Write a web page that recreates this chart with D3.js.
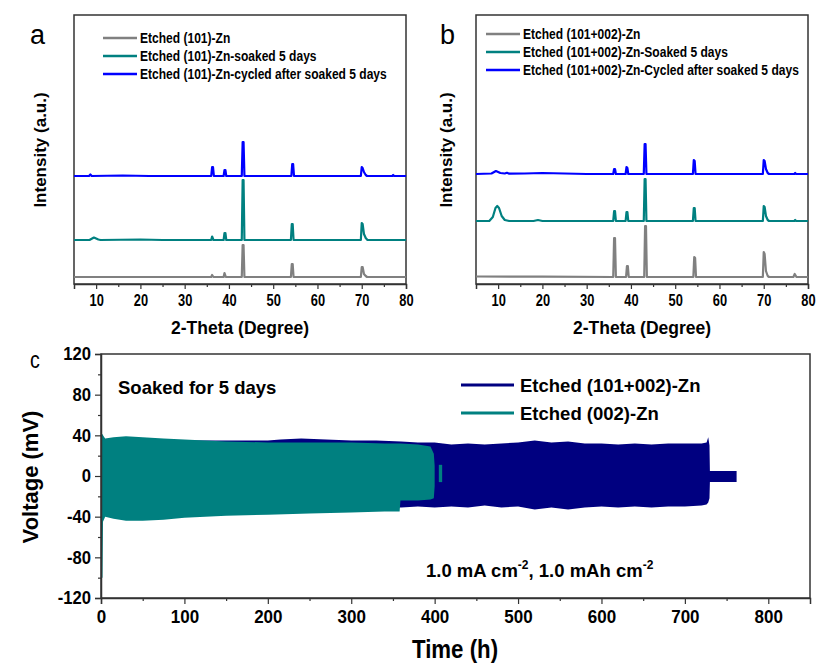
<!DOCTYPE html>
<html>
<head>
<meta charset="utf-8">
<script src="https://cdn.jsdelivr.net/npm/d3@7"></script>
<style>
  body { margin: 0; background: #fff; }
  svg text { fill: #000; font-family: "Liberation Sans", Arial, sans-serif; font-weight: bold; }
  svg text.plain { font-weight: normal; }
</style>
</head>
<body>
<svg width="818" height="669"></svg>
<script>
// ---- XRD data: [2-theta, intensity above baseline] ----
const aGray = [[5,0],[36.0,0],[36.2,2],[36.5,0],[38.8,0],[39.0,4],[39.3,0],[42.9,0],[43.1,32],[43.3,32],[43.5,0],
  [54.0,0],[54.2,13],[54.4,13],[54.6,0],[69.8,0],[70.0,10],[70.2,10],[70.5,3],[70.9,1],[71.2,0],[80,0]];
const aTeal = [[5,0],[8.5,0],[9.5,2.5],[10.5,0.5],[11,0],[20,0.5],[25,0],[36.0,0],[36.2,3.5],[36.5,0],[38.8,0],
  [39.0,7],[39.2,7],[39.4,0],[42.9,0],[43.1,60],[43.3,60],[43.5,0],[54.0,0],[54.2,16],[54.4,16],[54.6,0],
  [69.8,0],[70.0,17],[70.2,16],[70.5,6],[70.9,2],[71.3,0],[80,0]];
const aBlue = [[5,0],[8.4,0],[8.7,1.5],[9.0,0],[16,0.5],[22,0],[36.0,0],[36.2,9],[36.4,9],[36.6,0],[38.8,0],
  [39.0,6],[39.2,6],[39.4,0],[42.9,0],[43.1,34],[43.3,34],[43.5,0],[54.1,0],[54.3,12],[54.5,12],[54.7,0],
  [69.8,0],[70.0,9],[70.2,8],[70.5,4],[70.9,1],[71.2,0],[76.9,0],[77.1,1],[77.3,0],[80,0]];

const bGray = [[5,0.5],[20,0.3],[36.0,0],[36.2,39],[36.4,39],[36.6,0],[38.9,0],[39.1,11],[39.3,11],[39.5,0],
  [43.0,0],[43.2,51],[43.4,51],[43.6,0],[54.1,0],[54.3,20],[54.5,19],[54.7,0],[69.8,0],[70.0,25],[70.2,23],
  [70.5,6],[70.9,1],[71.2,0],[76.7,0],[77.0,3],[77.4,0],[80,0]];
const bTeal = [[5,0],[8.0,0],[8.8,4],[9.4,13],[9.8,15],[10.2,13],[10.8,5],[11.5,1],[12.5,0],[18,0],[19,1],[20,0],
  [36.0,0],[36.2,10],[36.4,10],[36.6,0],[38.8,0],[39.0,9],[39.2,9],[39.4,0],[42.9,0],[43.1,42],[43.3,42],[43.5,0],
  [54.0,0],[54.2,13],[54.4,13],[54.6,0],[69.8,0],[70.0,15],[70.2,14],[70.5,5],[70.9,1],[71.2,0],[76.9,0],[77.1,1],[77.3,0],[80,0]];
const bBlue = [[5,0],[8.5,0.5],[9.5,3],[10.5,1],[11.5,0.5],[12,1.2],[12.5,0.3],[16,0.5],[20,1],[25,0.5],[30,0],
  [36.0,0],[36.2,5],[36.4,5],[36.6,0],[38.8,0],[39.0,7],[39.2,6],[39.4,0],[42.9,0],[43.1,30],[43.3,30],[43.5,0],
  [54.0,0],[54.2,14],[54.4,13],[54.6,0],[69.8,0],[70.0,14],[70.2,13],[70.5,5],[70.9,1],[71.2,0],[76.9,0],[77.1,1],[77.3,0],[80,0]];

// stacking offsets (gray, teal, blue)
const aOffsets = [7, 44, 108];
const bOffsets = [7, 63, 110];

const aLabels = ["Etched (101)-Zn", "Etched (101)-Zn-soaked 5 days", "Etched (101)-Zn-cycled after soaked 5 days"];
const bLabels = ["Etched (101+002)-Zn", "Etched (101+002)-Zn-Soaked 5 days", "Etched (101+002)-Zn-Cycled after soaked 5 days"];
const xrdColors = ["#808080", "#008080", "#0000ff"];
const thetaTicks = [10, 20, 30, 40, 50, 60, 70, 80];

// ---- voltage profile envelopes: [time h, upper mV, lower mV] ----
const navyBand = [[0,35,-35],[100,35,-36],[200,35,-35],[215,36,-34],[240,37,-33],[270,36,-33],[300,35,-32],
  [330,35,-31],[360,34,-31],[380,33,-30],[400,33,-31],[420,31,-30],[440,32,-31],[460,31,-29],[480,32,-31],
  [500,33,-30],[520,35,-33],[540,33,-31],[560,34,-33],[580,32,-31],[600,32,-30],[620,31,-31],[640,32,-30],
  [660,31,-31],[680,32,-30],[700,32,-30],[720,32,-29],[726,33,-28],[728,38,-26],[729.5,30,-22],[730,5,-6],[762,5,-6]];
const tealBand = [[0,42,-100],[1.8,41,-100],[2.4,40,-45],[5,37,-40],[15,38,-42],[30,39,-44],[50,38,-44],[75,37,-43],[100,36,-41],
  [150,34,-39],[200,33,-38],[250,33,-37],[300,33,-36],[340,32,-35],[358,32,-35],[359,32,-24],[380,31,-24],
  [395,29,-23],[399,22,-22],[400,10,-10]];
const tealTail = [[405,11,-6],[409,11,-6]];
const bandLabels = ["Etched (101+002)-Zn", "Etched (002)-Zn"];
const bandColors = ["#000080", "#008080"];
const timeTicks = [0, 100, 200, 300, 400, 500, 600, 700, 800];
const voltTicks = [-120, -80, -40, 0, 40, 80, 120];

const svg = d3.select("svg");

// squeeze a text horizontally around its anchor (the original uses a condensed face)
function squeeze(sel, f) {
  sel.each(function () {
    const t = d3.select(this);
    const x = +t.attr("x") || 0, y = +t.attr("y") || 0;
    t.attr("x", 0).attr("y", 0).attr("transform", `translate(${x},${y}) scale(${f},1)`);
  });
}

function frame(g, x0, x1, y0, y1) {
  g.append("rect").attr("x", x0).attr("y", y0).attr("width", x1 - x0).attr("height", y1 - y0)
    .attr("fill", "none").attr("stroke", "#333").attr("stroke-width", 1.5);
}

function xrdPanel(opts) {
  const { left, right, top, bottom, series, offsets, labels, letter, letterX, titleX, legendX, legendY } = opts;
  const x = d3.scaleLinear().domain([5, 80]).range([left, right]);
  const y = d3.scaleLinear().domain([0, 269]).range([bottom, top]);
  const g = svg.append("g");

  // minor ticks
  g.append("g").attr("transform", `translate(0,${bottom})`)
    .call(d3.axisBottom(x).tickValues(d3.range(15, 80, 10)).tickSize(3).tickFormat(""))
    .call(s => s.select(".domain").remove())
    .call(s => s.selectAll("line").attr("stroke", "#333").attr("stroke-width", 1.2));
  g.append("g").attr("transform", `translate(0,${bottom})`)
    .call(d3.axisBottom(x).tickValues(thetaTicks).tickSize(5).tickPadding(5))
    .call(s => s.select(".domain").attr("stroke", "#333").attr("stroke-width", 1.5))
    .call(s => s.selectAll("line").attr("stroke", "#333").attr("stroke-width", 1.2))
    .call(s => s.selectAll("text").attr("font-size", 16.5).attr("font-family", null).attr("fill", "#000").call(squeeze, 0.78));
  frame(g, left, right, top, bottom);

  const line = d3.line().x(d => x(d[0]));
  series.forEach((s, i) => {
    g.append("path").attr("d", line.y(d => y(d[1] + offsets[i]))(s))
      .attr("fill", "none").attr("stroke", xrdColors[i]).attr("stroke-width", 2.2).attr("stroke-linejoin", "round");
  });

  labels.forEach((t, i) => {
    const yy = legendY + i * 18;
    g.append("line").attr("x1", legendX).attr("x2", legendX + 34).attr("y1", yy).attr("y2", yy)
      .attr("stroke", xrdColors[i]).attr("stroke-width", 2.5);
    g.append("text").attr("x", legendX + 37).attr("y", yy + 5)
      .attr("font-size", 14).text(t).call(squeeze, 0.86);
  });

  g.append("text").attr("font-size", 17.5).attr("text-anchor", "middle")
    .attr("x", (left + right) / 2).attr("y", 334).text("2-Theta (Degree)");
  g.append("text").attr("font-size", 17).attr("text-anchor", "middle")
    .attr("transform", `translate(${titleX},150) rotate(-90)`).text("Intensity (a.u.)");
  g.append("text").attr("class", "plain").attr("font-size", 27)
    .attr("x", letterX).attr("y", 44).text(letter);
}

xrdPanel({ left: 74, right: 406, top: 15, bottom: 284, series: [aGray, aTeal, aBlue], offsets: aOffsets,
  labels: aLabels, letter: "a", letterX: 30, titleX: 46, legendX: 103, legendY: 38 });
xrdPanel({ left: 476, right: 808, top: 15, bottom: 284, series: [bGray, bTeal, bBlue], offsets: bOffsets,
  labels: bLabels, letter: "b", letterX: 440, titleX: 452, legendX: 486, legendY: 34 });

// ---- panel c ----
(function () {
  const left = 101, right = 810, top = 354, bottom = 598;
  const x = d3.scaleLinear().domain([0, 850]).range([left, right]);
  const y = d3.scaleLinear().domain([-120, 120]).range([bottom, top]);
  const g = svg.append("g");

  const area = d3.area().x(d => x(d[0])).y0(d => y(d[2])).y1(d => y(d[1]));
  g.append("path").attr("d", area(navyBand)).attr("fill", bandColors[0]);
  g.append("path").attr("d", area(tealBand)).attr("fill", bandColors[1]);
  g.append("path").attr("d", area(tealTail)).attr("fill", bandColors[1]);

  const tickStyle = s => s.selectAll("line").attr("stroke", "#333").attr("stroke-width", 1.2);
  const plainNum = d => String(d); // hyphen-minus like the original
  g.append("g").attr("transform", `translate(0,${bottom})`)
    .call(d3.axisBottom(x).tickValues(d3.range(50, 850, 100)).tickSize(3).tickFormat(""))
    .call(s => s.select(".domain").remove()).call(tickStyle);
  g.append("g").attr("transform", `translate(0,${bottom})`)
    .call(d3.axisBottom(x).tickValues(timeTicks).tickSize(6).tickPadding(6).tickFormat(plainNum))
    .call(s => s.select(".domain").attr("stroke", "#333").attr("stroke-width", 1.5)).call(tickStyle)
    .call(s => s.selectAll("text").attr("font-size", 18.5).attr("font-family", null).attr("fill", "#000").call(squeeze, 0.92));
  g.append("g").attr("transform", `translate(${left},0)`)
    .call(d3.axisLeft(y).tickValues(d3.range(-100, 120, 40)).tickSize(3).tickFormat(""))
    .call(s => s.select(".domain").remove()).call(tickStyle);
  g.append("g").attr("transform", `translate(${left},0)`)
    .call(d3.axisLeft(y).tickValues(voltTicks).tickSize(6).tickPadding(4).tickFormat(plainNum))
    .call(s => s.select(".domain").attr("stroke", "#333").attr("stroke-width", 1.5)).call(tickStyle)
    .call(s => s.selectAll("text").attr("font-size", 18.5).attr("font-family", null).attr("fill", "#000").call(squeeze, 0.9));
  frame(g, left, right, top, bottom);

  bandLabels.forEach((t, i) => {
    const yy = 385 + i * 28;
    g.append("line").attr("x1", 461).attr("x2", 514).attr("y1", yy).attr("y2", yy)
      .attr("stroke", bandColors[i]).attr("stroke-width", 3);
    g.append("text").attr("x", 520).attr("y", yy + 7).attr("font-size", 18.5).text(t);
  });

  g.append("text").attr("x", 118).attr("y", 394).attr("font-size", 18.5).text("Soaked for 5 days");
  const cond = g.append("text").attr("x", 426).attr("y", 577).attr("font-size", 18.5);
  cond.append("tspan").text("1.0 mA cm");
  cond.append("tspan").attr("dy", -8).attr("font-size", 12).text("-2");
  cond.append("tspan").attr("dy", 8).text(", 1.0 mAh cm");
  cond.append("tspan").attr("dy", -8).attr("font-size", 12).text("-2");

  g.append("text").attr("font-size", 25).attr("text-anchor", "middle")
    .attr("x", 455).attr("y", 658).text("Time (h)").call(squeeze, 0.89);
  g.append("text").attr("font-size", 22).attr("text-anchor", "middle")
    .attr("transform", "translate(38,477) rotate(-90)").text("Voltage (mV)");
  g.append("text").attr("class", "plain").attr("font-size", 23)
    .attr("x", 30).attr("y", 368).text("c").call(squeeze, 0.85);
})();
</script>
</body>
</html>
